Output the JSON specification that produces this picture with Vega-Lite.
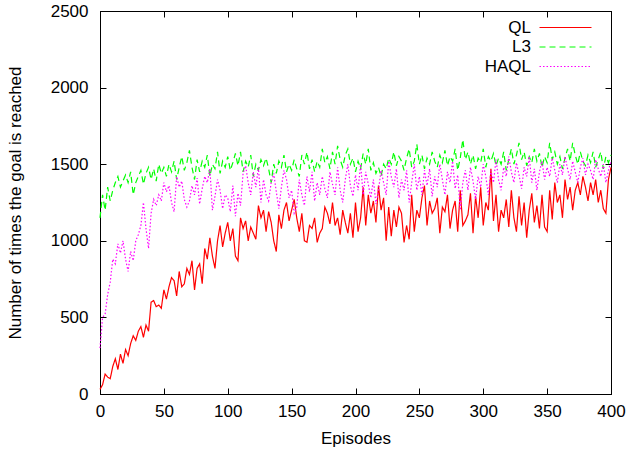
{
"$schema": "https://vega.github.io/schema/vega-lite/v6.json",
"width": 511, "height": 383,
"autosize": {"type": "none"},
"padding": {"left": 100, "top": 11, "right": 18, "bottom": 57},
"background": "white",
"config": {
  "view": {"stroke": "black", "strokeWidth": 1},
  "font": "Liberation Sans",
  "axis": {"grid": false, "domainColor": "black", "tickColor": "black", "labelColor": "black", "titleColor": "black", "labelFontSize": 17, "titleFontSize": 17, "titleFontWeight": "normal", "tickSize": -6, "labelFont": "Liberation Sans", "titleFont": "Liberation Sans", "format": "d", "labelFlush": false}
},
"datasets": {"d": [
{"e":0,"QL":30,"L3":1150,"HAQL":300},
{"e":2,"QL":60,"L3":1300,"HAQL":500},
{"e":4,"QL":130,"L3":1200,"HAQL":520},
{"e":6,"QL":110,"L3":1350,"HAQL":650},
{"e":8,"QL":100,"L3":1260,"HAQL":730},
{"e":10,"QL":180,"L3":1330,"HAQL":880},
{"e":12,"QL":230,"L3":1380,"HAQL":850},
{"e":14,"QL":160,"L3":1420,"HAQL":980},
{"e":16,"QL":260,"L3":1350,"HAQL":920},
{"e":18,"QL":200,"L3":1390,"HAQL":1000},
{"e":20,"QL":290,"L3":1430,"HAQL":880},
{"e":22,"QL":250,"L3":1380,"HAQL":800},
{"e":24,"QL":330,"L3":1450,"HAQL":930},
{"e":26,"QL":380,"L3":1300,"HAQL":870},
{"e":28,"QL":350,"L3":1380,"HAQL":1000},
{"e":30,"QL":410,"L3":1420,"HAQL":1040},
{"e":32,"QL":440,"L3":1460,"HAQL":1100},
{"e":34,"QL":370,"L3":1370,"HAQL":1250},
{"e":36,"QL":450,"L3":1440,"HAQL":1080},
{"e":38,"QL":410,"L3":1480,"HAQL":950},
{"e":40,"QL":600,"L3":1400,"HAQL":1180},
{"e":42,"QL":610,"L3":1470,"HAQL":1270},
{"e":44,"QL":570,"L3":1390,"HAQL":1230},
{"e":46,"QL":580,"L3":1500,"HAQL":1300},
{"e":48,"QL":560,"L3":1440,"HAQL":1260},
{"e":50,"QL":680,"L3":1480,"HAQL":1380},
{"e":52,"QL":620,"L3":1420,"HAQL":1320},
{"e":54,"QL":700,"L3":1500,"HAQL":1360},
{"e":56,"QL":760,"L3":1450,"HAQL":1250},
{"e":58,"QL":740,"L3":1520,"HAQL":1190},
{"e":60,"QL":640,"L3":1400,"HAQL":1420},
{"e":62,"QL":800,"L3":1480,"HAQL":1350},
{"e":64,"QL":700,"L3":1550,"HAQL":1390},
{"e":66,"QL":720,"L3":1460,"HAQL":1270},
{"e":68,"QL":820,"L3":1510,"HAQL":1220},
{"e":70,"QL":780,"L3":1590,"HAQL":1260},
{"e":72,"QL":870,"L3":1480,"HAQL":1360},
{"e":74,"QL":680,"L3":1400,"HAQL":1300},
{"e":76,"QL":820,"L3":1530,"HAQL":1410},
{"e":78,"QL":850,"L3":1450,"HAQL":1240},
{"e":80,"QL":720,"L3":1520,"HAQL":1340},
{"e":82,"QL":950,"L3":1480,"HAQL":1420},
{"e":84,"QL":880,"L3":1560,"HAQL":1380},
{"e":86,"QL":1020,"L3":1420,"HAQL":1470},
{"e":88,"QL":900,"L3":1500,"HAQL":1200},
{"e":90,"QL":820,"L3":1470,"HAQL":1290},
{"e":92,"QL":1000,"L3":1580,"HAQL":1400},
{"e":94,"QL":1100,"L3":1440,"HAQL":1330},
{"e":96,"QL":960,"L3":1520,"HAQL":1210},
{"e":98,"QL":1050,"L3":1480,"HAQL":1300},
{"e":100,"QL":1120,"L3":1550,"HAQL":1280},
{"e":102,"QL":1000,"L3":1460,"HAQL":1190},
{"e":104,"QL":1080,"L3":1510,"HAQL":1360},
{"e":106,"QL":900,"L3":1570,"HAQL":1160},
{"e":108,"QL":870,"L3":1490,"HAQL":1310},
{"e":110,"QL":1150,"L3":1580,"HAQL":1230},
{"e":112,"QL":1080,"L3":1450,"HAQL":1440},
{"e":114,"QL":1130,"L3":1520,"HAQL":1490},
{"e":116,"QL":1000,"L3":1480,"HAQL":1380},
{"e":118,"QL":1090,"L3":1560,"HAQL":1300},
{"e":120,"QL":1050,"L3":1420,"HAQL":1450},
{"e":122,"QL":1010,"L3":1500,"HAQL":1350},
{"e":124,"QL":1230,"L3":1460,"HAQL":1480},
{"e":126,"QL":1150,"L3":1530,"HAQL":1250},
{"e":128,"QL":1200,"L3":1490,"HAQL":1400},
{"e":130,"QL":1060,"L3":1540,"HAQL":1300},
{"e":132,"QL":1190,"L3":1470,"HAQL":1260},
{"e":134,"QL":1120,"L3":1380,"HAQL":1380},
{"e":136,"QL":1000,"L3":1500,"HAQL":1440},
{"e":138,"QL":930,"L3":1440,"HAQL":1320},
{"e":140,"QL":1170,"L3":1520,"HAQL":1210},
{"e":142,"QL":1080,"L3":1480,"HAQL":1350},
{"e":144,"QL":1200,"L3":1560,"HAQL":1460},
{"e":146,"QL":1250,"L3":1450,"HAQL":1400},
{"e":148,"QL":1130,"L3":1500,"HAQL":1280},
{"e":150,"QL":1200,"L3":1460,"HAQL":1330},
{"e":152,"QL":1270,"L3":1530,"HAQL":1180},
{"e":154,"QL":1150,"L3":1470,"HAQL":1220},
{"e":156,"QL":1060,"L3":1420,"HAQL":1400},
{"e":158,"QL":1180,"L3":1560,"HAQL":1300},
{"e":160,"QL":1000,"L3":1500,"HAQL":1230},
{"e":162,"QL":990,"L3":1580,"HAQL":1420},
{"e":164,"QL":1100,"L3":1470,"HAQL":1320},
{"e":166,"QL":1080,"L3":1530,"HAQL":1450},
{"e":168,"QL":1150,"L3":1450,"HAQL":1260},
{"e":170,"QL":990,"L3":1520,"HAQL":1380},
{"e":172,"QL":1050,"L3":1480,"HAQL":1300},
{"e":174,"QL":1080,"L3":1600,"HAQL":1420},
{"e":176,"QL":1220,"L3":1510,"HAQL":1340},
{"e":178,"QL":1180,"L3":1550,"HAQL":1280},
{"e":180,"QL":1110,"L3":1470,"HAQL":1450},
{"e":182,"QL":1250,"L3":1580,"HAQL":1370},
{"e":184,"QL":1100,"L3":1500,"HAQL":1300},
{"e":186,"QL":1150,"L3":1620,"HAQL":1480},
{"e":188,"QL":1040,"L3":1530,"HAQL":1330},
{"e":190,"QL":1200,"L3":1480,"HAQL":1250},
{"e":192,"QL":1120,"L3":1560,"HAQL":1400},
{"e":194,"QL":1050,"L3":1600,"HAQL":1500},
{"e":196,"QL":1180,"L3":1500,"HAQL":1360},
{"e":198,"QL":1020,"L3":1540,"HAQL":1290},
{"e":200,"QL":1250,"L3":1450,"HAQL":1430},
{"e":202,"QL":1060,"L3":1520,"HAQL":1330},
{"e":204,"QL":1150,"L3":1470,"HAQL":1500},
{"e":206,"QL":1350,"L3":1570,"HAQL":1300},
{"e":208,"QL":1100,"L3":1500,"HAQL":1450},
{"e":210,"QL":1300,"L3":1600,"HAQL":1370},
{"e":212,"QL":1180,"L3":1460,"HAQL":1280},
{"e":214,"QL":1260,"L3":1510,"HAQL":1400},
{"e":216,"QL":1120,"L3":1440,"HAQL":1240},
{"e":218,"QL":1360,"L3":1480,"HAQL":1330},
{"e":220,"QL":1200,"L3":1420,"HAQL":1460},
{"e":222,"QL":1280,"L3":1500,"HAQL":1380},
{"e":224,"QL":1000,"L3":1470,"HAQL":1300},
{"e":226,"QL":1220,"L3":1540,"HAQL":1520},
{"e":228,"QL":1030,"L3":1500,"HAQL":1420},
{"e":230,"QL":1200,"L3":1580,"HAQL":1350},
{"e":232,"QL":1090,"L3":1490,"HAQL":1470},
{"e":234,"QL":1220,"L3":1550,"HAQL":1280},
{"e":236,"QL":1180,"L3":1520,"HAQL":1400},
{"e":238,"QL":990,"L3":1460,"HAQL":1330},
{"e":240,"QL":1100,"L3":1540,"HAQL":1460},
{"e":242,"QL":1010,"L3":1600,"HAQL":1250},
{"e":244,"QL":1300,"L3":1480,"HAQL":1380},
{"e":246,"QL":1060,"L3":1520,"HAQL":1500},
{"e":248,"QL":1200,"L3":1630,"HAQL":1330},
{"e":250,"QL":1150,"L3":1500,"HAQL":1420},
{"e":252,"QL":1280,"L3":1560,"HAQL":1300},
{"e":254,"QL":1360,"L3":1470,"HAQL":1460},
{"e":256,"QL":1100,"L3":1540,"HAQL":1360},
{"e":258,"QL":1260,"L3":1500,"HAQL":1470},
{"e":260,"QL":1180,"L3":1580,"HAQL":1290},
{"e":262,"QL":1210,"L3":1520,"HAQL":1420},
{"e":264,"QL":1280,"L3":1480,"HAQL":1350},
{"e":266,"QL":1050,"L3":1560,"HAQL":1500},
{"e":268,"QL":1220,"L3":1510,"HAQL":1400},
{"e":270,"QL":1190,"L3":1590,"HAQL":1300},
{"e":272,"QL":1300,"L3":1490,"HAQL":1450},
{"e":274,"QL":1080,"L3":1550,"HAQL":1380},
{"e":276,"QL":1200,"L3":1520,"HAQL":1520},
{"e":278,"QL":1260,"L3":1600,"HAQL":1340},
{"e":280,"QL":1060,"L3":1460,"HAQL":1430},
{"e":282,"QL":1330,"L3":1540,"HAQL":1200},
{"e":284,"QL":1100,"L3":1660,"HAQL":1380},
{"e":286,"QL":1130,"L3":1530,"HAQL":1460},
{"e":288,"QL":1170,"L3":1580,"HAQL":1330},
{"e":290,"QL":1310,"L3":1500,"HAQL":1480},
{"e":292,"QL":1050,"L3":1560,"HAQL":1390},
{"e":294,"QL":1290,"L3":1470,"HAQL":1270},
{"e":296,"QL":1150,"L3":1540,"HAQL":1420},
{"e":298,"QL":1350,"L3":1510,"HAQL":1350},
{"e":300,"QL":1100,"L3":1600,"HAQL":1500},
{"e":302,"QL":1250,"L3":1480,"HAQL":1420},
{"e":304,"QL":1200,"L3":1550,"HAQL":1300},
{"e":306,"QL":1470,"L3":1520,"HAQL":1460},
{"e":308,"QL":1130,"L3":1570,"HAQL":1380},
{"e":310,"QL":1300,"L3":1490,"HAQL":1530},
{"e":312,"QL":1060,"L3":1540,"HAQL":1400},
{"e":314,"QL":1200,"L3":1500,"HAQL":1330},
{"e":316,"QL":1150,"L3":1580,"HAQL":1480},
{"e":318,"QL":1270,"L3":1460,"HAQL":1420},
{"e":320,"QL":1090,"L3":1530,"HAQL":1550},
{"e":322,"QL":1330,"L3":1600,"HAQL":1450},
{"e":324,"QL":1150,"L3":1500,"HAQL":1380},
{"e":326,"QL":1060,"L3":1560,"HAQL":1510},
{"e":328,"QL":1290,"L3":1640,"HAQL":1430},
{"e":330,"QL":1100,"L3":1530,"HAQL":1340},
{"e":332,"QL":1250,"L3":1580,"HAQL":1480},
{"e":334,"QL":1020,"L3":1490,"HAQL":1420},
{"e":336,"QL":1200,"L3":1550,"HAQL":1550},
{"e":338,"QL":1310,"L3":1510,"HAQL":1380},
{"e":340,"QL":1120,"L3":1600,"HAQL":1470},
{"e":342,"QL":1230,"L3":1520,"HAQL":1330},
{"e":344,"QL":1080,"L3":1570,"HAQL":1450},
{"e":346,"QL":1300,"L3":1480,"HAQL":1520},
{"e":348,"QL":1090,"L3":1550,"HAQL":1400},
{"e":350,"QL":1060,"L3":1510,"HAQL":1480},
{"e":352,"QL":1330,"L3":1640,"HAQL":1420},
{"e":354,"QL":1140,"L3":1530,"HAQL":1540},
{"e":356,"QL":1380,"L3":1580,"HAQL":1460},
{"e":358,"QL":1250,"L3":1500,"HAQL":1380},
{"e":360,"QL":1300,"L3":1550,"HAQL":1500},
{"e":362,"QL":1150,"L3":1470,"HAQL":1430},
{"e":364,"QL":1400,"L3":1540,"HAQL":1550},
{"e":366,"QL":1270,"L3":1600,"HAQL":1470},
{"e":368,"QL":1350,"L3":1520,"HAQL":1400},
{"e":370,"QL":1200,"L3":1640,"HAQL":1520},
{"e":372,"QL":1330,"L3":1560,"HAQL":1450},
{"e":374,"QL":1380,"L3":1500,"HAQL":1380},
{"e":376,"QL":1300,"L3":1580,"HAQL":1480},
{"e":378,"QL":1420,"L3":1520,"HAQL":1540},
{"e":380,"QL":1350,"L3":1490,"HAQL":1430},
{"e":382,"QL":1260,"L3":1560,"HAQL":1500},
{"e":384,"QL":1380,"L3":1510,"HAQL":1460},
{"e":386,"QL":1300,"L3":1580,"HAQL":1400},
{"e":388,"QL":1400,"L3":1480,"HAQL":1530},
{"e":390,"QL":1250,"L3":1530,"HAQL":1470},
{"e":392,"QL":1330,"L3":1580,"HAQL":1420},
{"e":394,"QL":1210,"L3":1470,"HAQL":1500},
{"e":396,"QL":1180,"L3":1550,"HAQL":1380},
{"e":398,"QL":1400,"L3":1510,"HAQL":1460},
{"e":400,"QL":1480,"L3":1560,"HAQL":1520}
]},
"data": {"name": "d"},
"transform": [{"fold": ["QL", "L3", "HAQL"], "as": ["s", "v"]}],
"layer": [
  {
    "mark": {"type": "line", "strokeWidth": 1.2},
    "encoding": {
      "x": {"field": "e", "type": "quantitative", "scale": {"domain": [0, 400], "nice": false, "zero": false}, "axis": {"values": [0, 50, 100, 150, 200, 250, 300, 350, 400], "title": "Episodes", "labelPadding": 15, "titleY": 44, "titleBaseline": "middle"}},
      "y": {"field": "v", "type": "quantitative", "scale": {"domain": [0, 2500], "nice": false}, "axis": {"values": [0, 500, 1000, 1500, 2000, 2500], "title": "Number of times the goal is reached", "labelPadding": 18, "titleX": -85, "titleY": 191.5, "titleBaseline": "middle", "titleAngle": -90}},
      "color": {"field": "s", "type": "nominal", "scale": {"domain": ["QL", "L3", "HAQL"], "range": ["#ff0000", "#00ff00", "#ff00ff"]},
        "legend": {"title": null, "orient": "none", "legendX": 457, "legendY": 8, "symbolType": "M-4,0H4", "symbolSize": 169, "symbolStrokeWidth": 1.2, "labelAlign": "right", "labelOffset": -43, "labelFontSize": 17, "labelColor": "black", "labelFont": "Liberation Sans", "rowPadding": 1.5, "labelBaseline": "middle",
          "encode": {"symbols": {"update": {
            "stroke": {"scale": "color", "field": "value"},
            "fill": {"value": "transparent"},
            "strokeDash": [{"test": "datum.value === 'L3'", "value": [6, 4]}, {"test": "datum.value === 'HAQL'", "value": [1.5, 2]}, {"value": [1, 0]}]
          }}}}},
      "strokeDash": {"field": "s", "type": "nominal", "scale": {"domain": ["QL", "L3", "HAQL"], "range": [[1, 0], [6, 4], [1.5, 2]]}, "legend": null}
    }
  },
  {
    "mark": {"type": "line", "opacity": 0},
    "encoding": {
      "x": {"field": "e", "type": "quantitative", "scale": {"domain": [0, 400], "nice": false, "zero": false}, "axis": {"orient": "top", "labels": false, "title": null, "values": [0, 50, 100, 150, 200, 250, 300, 350, 400]}},
      "y": {"field": "v", "type": "quantitative", "scale": {"domain": [0, 2500], "nice": false}, "axis": {"orient": "right", "labels": false, "title": null, "values": [0, 500, 1000, 1500, 2000, 2500]}}
    }
  }
],
"resolve": {"axis": {"x": "independent", "y": "independent"}}
}
